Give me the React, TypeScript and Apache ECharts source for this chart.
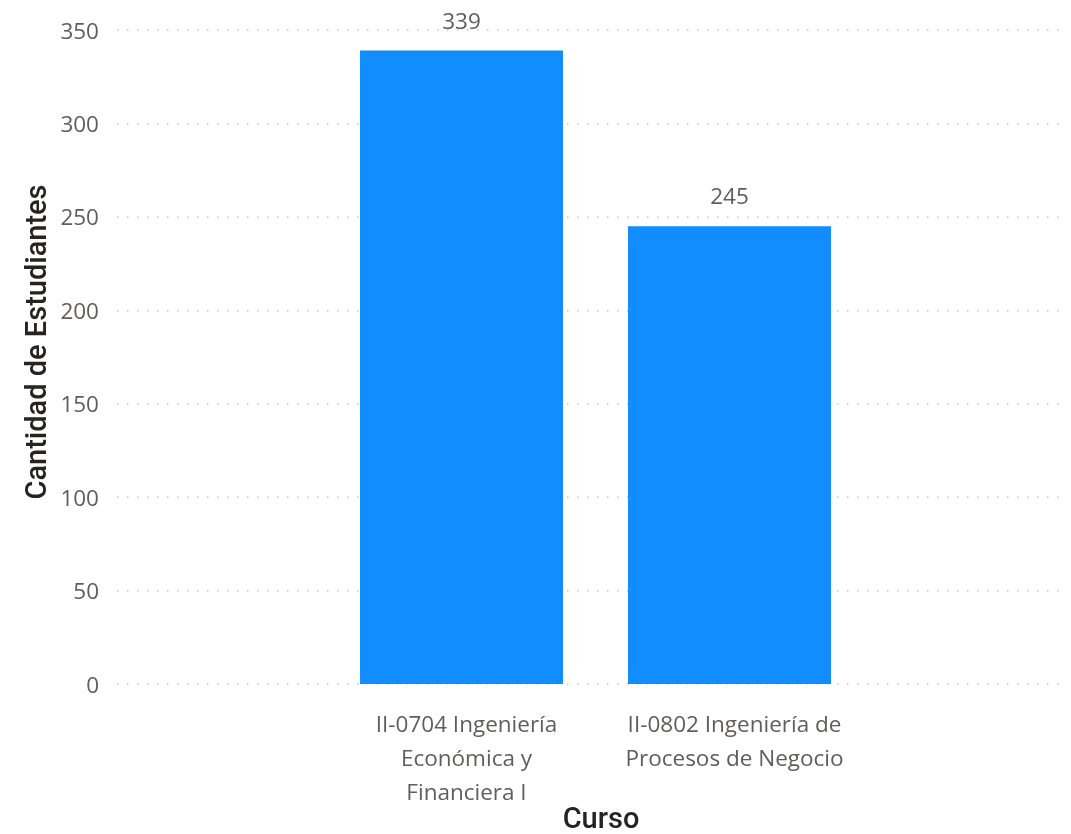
import React, { useEffect, useRef } from "react";
import * as echarts from "echarts";

const categories = [
  "II-0704 Ingeniería\nEconómica y\nFinanciera I",
  "II-0802 Ingeniería de\nProcesos de Negocio",
];
const estudiantes = [339, 245];
const yMin = 0;
const yMax = 350;
const yInterval = 50;
const xTitle = "Curso";
const yTitle = "Cantidad de Estudiantes";

const FONT = "'Open Sans', 'Noto Sans', sans-serif";
const TITLE_FONT = "Roboto, 'DejaVu Sans Condensed', sans-serif";

export default function App() {
  const ref = useRef<HTMLDivElement>(null);
  useEffect(() => {
    if (!ref.current) return;
    const chart = echarts.init(ref.current, undefined, { renderer: "svg" });
    chart.setOption({
      animation: false,
      grid: [
        { left: 117, right: 6, top: 30, bottom: 150, outerBoundsMode: "none", containLabel: false },
        { left: 327.5, right: 207.5, top: 30, bottom: 150, outerBoundsMode: "none", containLabel: false },
      ],
      xAxis: [
        { type: "value", gridIndex: 0, show: false, min: 0, max: 1 },
        {
          type: "category",
          gridIndex: 1,
          data: categories,
          axisLine: { show: false },
          axisTick: { show: false },
          axisLabel: {
            interval: 0,
            hideOverlap: false,
            color: "#605E5C",
            fontFamily: FONT,
            fontSize: 22.5,
            lineHeight: 34,
            margin: 22,
            align: "center",
            padding: [0, 0, 0, 10],
          },
        },
      ],
      yAxis: [
        {
          type: "value",
          gridIndex: 0,
          min: yMin,
          max: yMax,
          interval: yInterval,
          axisLine: { show: false },
          axisTick: { show: false },
          axisLabel: {
            color: "#605E5C",
            fontFamily: FONT,
            fontSize: 22.5,
            margin: 18,
          },
          splitLine: {
            show: true,
            lineStyle: { color: "#C8C6C4", width: 1.5, type: [1.5, 8.5] },
          },
        },
        {
          type: "value",
          gridIndex: 1,
          min: yMin,
          max: yMax,
          interval: yInterval,
          show: false,
          splitLine: { show: false },
        },
      ],
      series: [
        {
          type: "bar",
          xAxisIndex: 1,
          yAxisIndex: 1,
          data: estudiantes,
          barWidth: 203,
          itemStyle: { color: "#118DFF" },
          label: {
            show: true,
            position: "top",
            distance: 19,
            color: "#605E5C",
            fontFamily: FONT,
            fontSize: 22.5,
          },
        },
      ],
      graphic: [
        {
          type: "text",
          x: 36,
          y: 342,
          rotation: Math.PI / 2,
          style: {
            text: yTitle,
            fill: "#252423",
            font: `500 29px ${TITLE_FONT}`,
            textAlign: "center",
            textVerticalAlign: "middle",
          },
        },
        {
          type: "text",
          x: 601,
          y: 818,
          style: {
            text: xTitle,
            fill: "#252423",
            font: `500 29px ${TITLE_FONT}`,
            textAlign: "center",
            textVerticalAlign: "middle",
          },
        },
      ],
    });
    return () => chart.dispose();
  }, []);
  return (
    <div
      ref={ref}
      style={{ position: "fixed", left: 0, top: 0, width: 1071, height: 834 }}
    />
  );
}
